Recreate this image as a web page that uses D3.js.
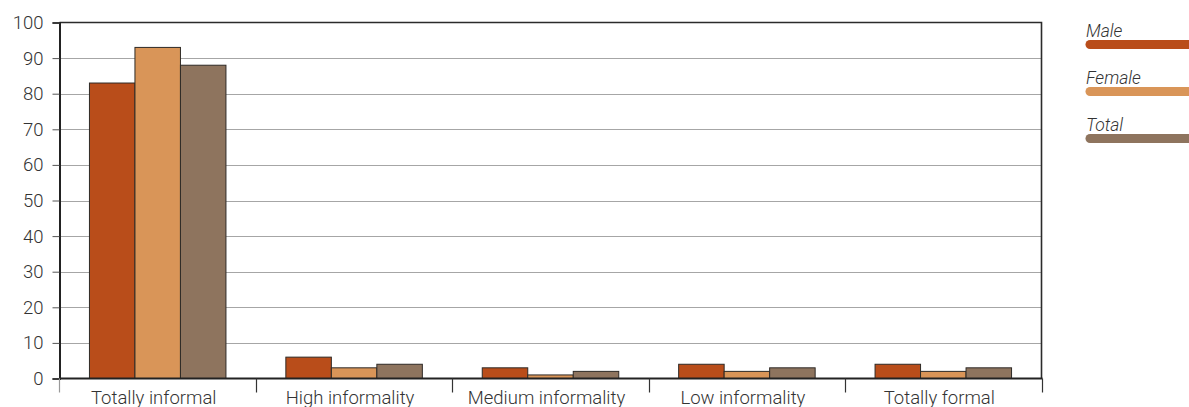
<!DOCTYPE html>
<html>
<head>
<meta charset="utf-8">
<script src="https://cdn.jsdelivr.net/npm/d3@7"></script>
<style>
  html, body { margin: 0; padding: 0; background: #fff; }
  svg { display: block; }
  text { font-family: Roboto, "Liberation Sans", Arial, sans-serif; font-weight: 300; fill: #333; }
</style>
</head>
<body>
<svg id="chart" width="1189" height="407"></svg>
<script>
// Share of workers by degree of informality, by sex (%)
const categories = ["Totally informal", "High informality", "Medium informality", "Low informality", "Totally formal"];
const seriesNames = ["Male", "Female", "Total"];
const maleValues = [83, 6, 3, 4, 4];
const femaleValues = [93, 3, 1, 2, 2];
const totalValues = [88, 4, 2, 3, 3];
const yTicks = [0, 10, 20, 30, 40, 50, 60, 70, 80, 90, 100];

const colors = { Male: "#b94d1a", Female: "#d99558", Total: "#8e745e" };
const seriesValues = { Male: maleValues, Female: femaleValues, Total: totalValues };

const rows = categories.map((c, i) => ({
  category: c,
  values: seriesNames.map(s => ({ series: s, value: seriesValues[s][i] }))
}));

const svg = d3.select("#chart");
const plotLeft = 59.5, plotRight = 1041.5, plotTop = 22.5, plotBottom = 378.5;

const x0 = d3.scaleBand().domain(categories).range([plotLeft, plotRight])
  .paddingInner(0.305).paddingOuter(0.1525);
const x1 = d3.scaleBand().domain(seriesNames).range([0, x0.bandwidth()]);
const y = d3.scaleLinear().domain([0, 100]).range([plotBottom, plotTop]);

// horizontal gridlines
svg.append("g").selectAll("line").data(yTicks.filter(t => t > 0 && t < 100)).join("line")
  .attr("x1", plotLeft).attr("x2", plotRight)
  .attr("y1", d => Math.round(y(d)) + 0.5).attr("y2", d => Math.round(y(d)) + 0.5)
  .attr("stroke", "#a6a6a6").attr("stroke-width", 1);

// bars
const groups = svg.append("g").selectAll("g").data(rows).join("g")
  .attr("transform", d => `translate(${x0(d.category)},0)`);
groups.selectAll("rect").data(d => d.values).join("rect")
  .attr("x", d => x1(d.series))
  .attr("y", d => y(d.value))
  .attr("width", x1.bandwidth())
  .attr("height", d => y(0) - y(d.value))
  .attr("fill", d => colors[d.series])
  .attr("stroke", "#2e2a26").attr("stroke-width", 1);

// frame: top and right border
svg.append("path")
  .attr("d", `M${plotLeft},${plotTop}H${plotRight}V${plotBottom}`)
  .attr("fill", "none").attr("stroke", "#2b2b2b").attr("stroke-width", 1.6);

// y axis
const yAxis = d3.axisLeft(y).tickValues(yTicks).tickSize(7).tickPadding(9);
const gy = svg.append("g").attr("transform", `translate(${plotLeft},0)`).call(yAxis);
gy.attr("font-family", null).attr("font-size", null);
gy.select(".domain").attr("stroke", "#222").attr("stroke-width", 2);
gy.selectAll(".tick line").attr("stroke", "#555");
gy.selectAll(".tick text").style("font-size", "18.5px").attr("fill", "#333");

// x axis baseline
svg.append("line").attr("x1", plotLeft).attr("x2", plotRight + 1)
  .attr("y1", plotBottom).attr("y2", plotBottom)
  .attr("stroke", "#222").attr("stroke-width", 2);

// category boundary ticks below the axis
const bounds = categories.map(c => x0(c) - x0.step() * x0.paddingInner() / 2).concat([plotRight]);
svg.append("g").selectAll("line").data(bounds).join("line")
  .attr("x1", d => Math.round(d) + 0.5).attr("x2", d => Math.round(d) + 0.5)
  .attr("y1", plotBottom).attr("y2", plotBottom + 14)
  .attr("stroke", (d, i) => i === 0 ? "#999" : "#333").attr("stroke-width", 1.2);

// category labels
svg.append("g").selectAll("text").data(categories).join("text")
  .attr("x", d => x0(d) + x0.bandwidth() / 2 - 4)
  .attr("y", 404)
  .attr("text-anchor", "middle")
  .style("font-size", "18.5px")
  .text(d => d);

// legend
const legend = svg.append("g").selectAll("g").data(seriesNames).join("g")
  .attr("transform", (d, i) => `translate(1086,${37 + i * 47})`);
legend.append("text")
  .attr("x", 0).attr("y", 0)
  .style("font-size", "17.5px").style("font-style", "italic")
  .text(d => d);
legend.append("line")
  .attr("x1", 4).attr("x2", 1200)
  .attr("y1", 7.5).attr("y2", 7.5)
  .attr("stroke", d => colors[d]).attr("stroke-width", 9)
  .attr("stroke-linecap", "round");
</script>
</body>
</html>
